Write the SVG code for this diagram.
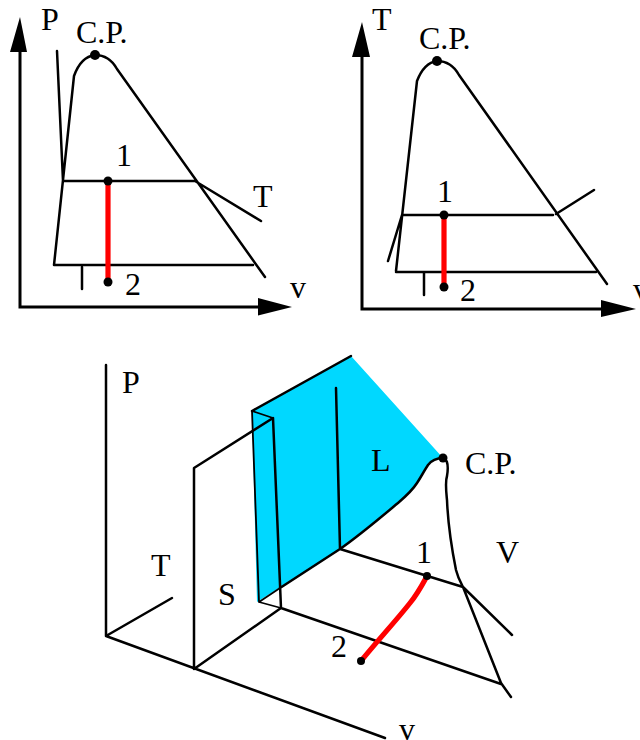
<svg xmlns="http://www.w3.org/2000/svg" width="640" height="740" viewBox="0 0 640 740">
<style>
text{font-family:"Liberation Serif","Times New Roman",serif;font-size:32px;fill:#000}
.l{fill:none;stroke:#000;stroke-width:2.5;stroke-linejoin:round;stroke-linecap:round}
.t{fill:none;stroke:#000;stroke-width:1.800;stroke-linejoin:round;stroke-linecap:round}
.a{fill:none;stroke:#000;stroke-width:3}
.r{fill:none;stroke:#f00;stroke-width:5.200}
.h{fill:#000}
</style>
<rect width="640" height="740" fill="#fff"/>
<g id="pv-diagram">
<path class="a" d="M20 52V307H262"/>
<path class="h" d="M20 17L10 52H27ZM292 307L258 298V315.500Z"/>
<path class="l" d="M57 51L63 181M54 265L74 76C79 62 87 56 95 55C104 55 112 60 117 69L265 277M63 181H195L261 221M54 265H253M82 267V289"/>
<path class="r" d="M108 181V282"/>
<circle class="h" cx="95" cy="55" r="5"/><circle class="h" cx="108" cy="181" r="4.500"/><circle class="h" cx="108" cy="282" r="4.500"/>
<text x="41" y="30">P</text><text x="76" y="43">C.P.</text><text x="116" y="166">1</text><text x="253" y="207">T</text><text x="125" y="295">2</text><text x="290" y="298">v</text>
</g>
<g id="tv-diagram">
<path class="a" d="M362 55V309H610"/>
<path class="h" d="M362 22L352 57H370ZM636 309L601 300V317Z"/>
<path class="l" d="M396 271L417 81C422 68 430 62 437 61C446 61 454 66 459 75L607 284M402 215H553M396 272H596M388 261L402 215M556 214L594 190M424 272V295"/>
<path class="r" d="M444 215V287"/>
<circle class="h" cx="437" cy="61" r="5"/><circle class="h" cx="444" cy="215" r="4.500"/><circle class="h" cx="444" cy="287" r="4.500"/>
<text x="372" y="30">T</text><text x="419" y="49">C.P.</text><text x="437" y="202">1</text><text x="460" y="301">2</text><text x="633" y="300">v</text>
</g>
<g id="pvt-surface">
<path d="M252 411L351 356L443 458C436 458 431 461 428 465C424 471 421 477 417 483C412 491 405 497 398 503L340 549L257 602Z" fill="#00d8ff"/>
<path class="l" d="M106 365V636L385 738M106 636L172 598M194 669V468L273 418L281 608L194 669M252 411L351 356M259 602M340 549L336 388M340 549C360 535 380 518 398 503C405 497 412 491 417 483C421 477 424 471 428 465C431 461 436 458 443 458C449 460 448 470 447 476C445 482 446 490 447 500C448 525 452 550 456 570C458 578 461 583 463 587L501 683L511 697M340 549L463 587L512 635M281 608L501 684M340 549L280 588"/>
<path class="t" d="M252 411L273 418M252 411L259 602L281 608M259 602L280 588"/>
<path class="r" d="M427 576C421 587 418 593 410 603C395 622 378 640 361 661"/>
<circle class="h" cx="443" cy="458" r="4.500"/><circle class="h" cx="427" cy="576" r="4"/><circle class="h" cx="361" cy="661" r="4"/>
<text x="122" y="393">P</text><text x="151" y="576">T</text><text x="218" y="605">S</text><text x="371" y="471">L</text><text x="465" y="474">C.P.</text><text x="416" y="563">1</text><text x="496" y="563">V</text><text x="331" y="657">2</text><text x="399" y="740">v</text>
</g>
</svg>
